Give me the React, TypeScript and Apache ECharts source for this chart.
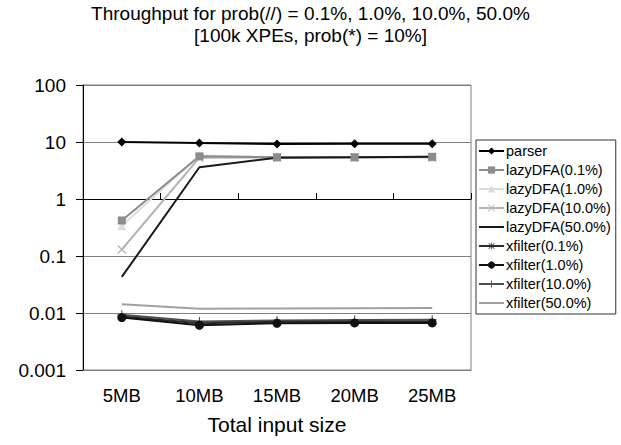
import React, { useEffect, useRef } from "react";
import * as echarts from "echarts";

const categories = ["5MB", "10MB", "15MB", "20MB", "25MB"];
const yTicks = [0.001, 0.01, 0.1, 1, 10, 100];

const parser = [10, 9.6, 9.2, 9.3, 9.3];
const lazy01 = [0.42, 5.6, 5.4, 5.4, 5.5];
const lazy1 = [0.34, 5.8, 5.4, 5.4, 5.4];
const lazy10 = [0.13, 5.3, 5.4, 5.4, 5.4];
const lazy50 = [0.043, 3.6, 5.3, 5.4, 5.5];
const xf01 = [0.0087, 0.0066, 0.007, 0.007, 0.0071];
const xf1 = [0.0083, 0.0061, 0.0066, 0.0067, 0.0067];
const xf10 = [0.0093, 0.0071, 0.0074, 0.0075, 0.0076];
const xf50 = [0.0142, 0.0119, 0.012, 0.0121, 0.0123];

const legendNames = [
  "parser",
  "lazyDFA(0.1%)",
  "lazyDFA(1.0%)",
  "lazyDFA(10.0%)",
  "lazyDFA(50.0%)",
  "xfilter(0.1%)",
  "xfilter(1.0%)",
  "xfilter(10.0%)",
  "xfilter(50.0%)",
];
const noSymbol = ["lazyDFA(50.0%)", "xfilter(50.0%)"];

const FONT = "Liberation Sans, Arial, sans-serif";

const xPath = "path://M0,1L1,0L5,4L9,0L10,1L6,5L10,9L9,10L5,6L1,10L0,9L4,5Z";
const plusPath = "path://M4.4,0H5.6V4.4H10V5.6H5.6V10H4.4V5.6H0V4.4H4.4Z";
const starPath =
  "path://M4.5,0H5.5V4.1L8.6,1L9.3,1.7L6.2,4.5H10V5.5H6.2L9.3,8.3L8.6,9L5.5,5.9V10H4.5V5.9L1.4,9L0.7,8.3L3.8,5.5H0V4.5H3.8L0.7,1.7L1.4,1L4.5,4.1Z";

function mk(name: string, data: number[], color: string, symbol: string, symbolSize: number, width = 2) {
  return {
    name,
    type: "line",
    data,
    xAxisIndex: 0,
    yAxisIndex: 0,
    symbol,
    symbolSize,
    showSymbol: symbol !== "none",
    lineStyle: { color, width },
    itemStyle: { color, borderWidth: 0 },
    emphasis: { disabled: true },
  };
}

export default function App() {
  const ref = useRef<HTMLDivElement>(null);
  useEffect(() => {
    document.body.style.margin = "0";
    if (!ref.current) return;
    const chart = echarts.init(ref.current, undefined, { renderer: "svg" });
    chart.setOption({
      animation: false,
      backgroundColor: "#ffffff",
      textStyle: { fontFamily: FONT },
      title: {
        text: "Throughput for prob(//) = 0.1%, 1.0%, 10.0%, 50.0%\n[100k XPEs, prob(*) = 10%]",
        left: "center",
        top: 3,
        padding: 0,
        textStyle: { fontFamily: FONT, fontSize: 19, fontWeight: "normal", color: "#000", lineHeight: 21.5 },
      },
      grid: {
        left: 83,
        right: 150,
        top: 85,
        bottom: 75,
        show: true,
        borderColor: "#808080",
        borderWidth: 1,
        backgroundColor: "transparent",
      },
      legend: {
        orient: "vertical",
        left: 476,
        top: 140,
        itemWidth: 25,
        itemHeight: 9,
        itemGap: 3,
        padding: [3, 5, 3, 2],
        borderColor: "#333",
        borderWidth: 1,
        borderRadius: 0,
        backgroundColor: "#fff",
        textStyle: { fontFamily: FONT, fontSize: 14.5, lineHeight: 16, color: "#000", padding: [0, 0, 0, -3] },
        data: legendNames.map((n) =>
          noSymbol.includes(n) ? { name: n, itemStyle: { opacity: 0 } } : { name: n }
        ),
      },
      xAxis: [
        {
          type: "category",
          data: categories,
          boundaryGap: true,
          axisLine: { show: true, lineStyle: { color: "#808080", width: 1 } },
          axisTick: { show: false },
          axisLabel: { fontFamily: FONT, fontSize: 18.5, color: "#000", margin: 16 },
          name: "Total input size",
          nameLocation: "middle",
          nameGap: 44,
          nameTextStyle: { fontFamily: FONT, fontSize: 21, color: "#000" },
          splitLine: { show: false },
        },
        {
          type: "category",
          data: categories,
          boundaryGap: true,
          position: "bottom",
          offset: -171,
          axisLine: { show: true, lineStyle: { color: "#000", width: 1 } },
          axisTick: { show: true, inside: true, length: 6, lineStyle: { color: "#000" } },
          axisLabel: { show: false },
          splitLine: { show: false },
        },
      ],
      yAxis: {
        type: "log",
        logBase: 10,
        min: yTicks[0],
        max: yTicks[yTicks.length - 1],
        axisLine: { show: true, lineStyle: { color: "#000", width: 1 } },
        axisTick: { show: true, length: 7, lineStyle: { color: "#000" } },
        axisLabel: {
          fontFamily: FONT,
          fontSize: 19,
          color: "#000",
          margin: 17,
          formatter: (v: number) => String(Number(v.toPrecision(1))),
        },
        splitLine: { show: true, lineStyle: { color: "#7f7f7f", width: 1 } },
        minorTick: { show: false },
      },
      series: [
        mk("lazyDFA(1.0%)", lazy1, "#dcdcdc", "triangle", 9),
        mk("lazyDFA(10.0%)", lazy10, "#b4b4b4", xPath, 9),
        mk("lazyDFA(0.1%)", lazy01, "#8c8c8c", "rect", 8),
        mk("lazyDFA(50.0%)", lazy50, "#1a1a1a", "none", 0),
        mk("parser", parser, "#000000", "diamond", 9),
        mk("xfilter(50.0%)", xf50, "#a0a0a0", "none", 0),
        mk("xfilter(10.0%)", xf10, "#505050", plusPath, 9),
        mk("xfilter(0.1%)", xf01, "#2a2a2a", starPath, 7),
        mk("xfilter(1.0%)", xf1, "#111111", "circle", 9),
      ],
    });
    return () => chart.dispose();
  }, []);
  return <div ref={ref} style={{ width: 621, height: 445 }} />;
}
